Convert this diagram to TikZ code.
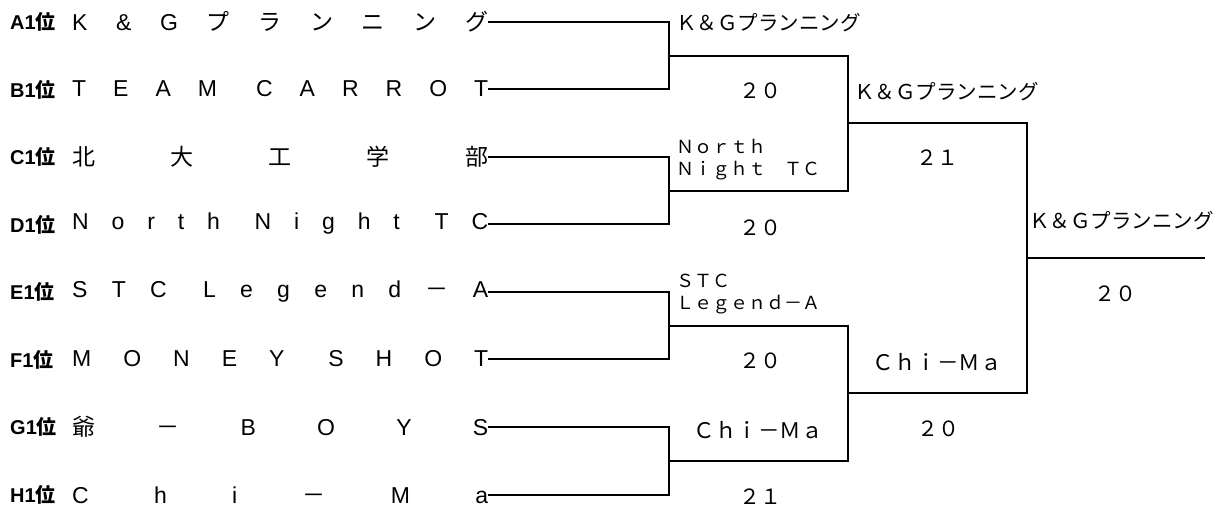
\documentclass[tikz,border=0pt]{standalone}
\usepackage{fontspec}
\setmainfont{Noto Sans CJK JP}
\newfontfamily\latf{Liberation Sans}
\newcommand\gf{\hfill}
\newcommand\sgf{\hspace{12pt}\hfill}
\newcommand\jp[1]{{\rmfamily #1}}
\tikzset{
  x=1pt, y=-1pt,
  rank/.style={anchor=west, inner sep=0pt, font=\fontsize{20}{22}\selectfont\bfseries},
  team/.style={anchor=west, inner sep=0pt, font=\fontsize{23}{25}\selectfont\latf},
  win/.style={inner sep=0pt, font=\fontsize{20.5}{22}\selectfont},
  winsmall/.style={inner sep=0pt, align=left, font=\fontsize{18}{22}\selectfont},
  score/.style={inner sep=0pt, font=\fontsize{21}{23}\selectfont},
  bline/.style={line width=1.8pt, line join=miter}
}
\begin{document}
\begin{tikzpicture}
\useasboundingbox (0,0) rectangle (1228,511);
% rank labels
\node[rank] (rA) at (10,22) {{\latf A1}位};
\node[rank] (rB) at (10,90) {{\latf B1}位};
\node[rank] (rC) at (10,157) {{\latf C1}位};
\node[rank] (rD) at (10,225) {{\latf D1}位};
\node[rank] (rE) at (10,292) {{\latf E1}位};
\node[rank] (rF) at (10,360) {{\latf F1}位};
\node[rank] (rG) at (10,427) {{\latf G1}位};
\node[rank] (rH) at (10,495) {{\latf H1}位};
% team names
\node[team] (tA) at (72,22) {\makebox[416pt][l]{K\gf\&\gf G\gf \jp{プ}\gf \jp{ラ}\gf \jp{ン}\gf \jp{ニ}\gf \jp{ン}\gf \jp{グ}}\hspace{3pt}};
\node[team] (tB) at (72,89) {\makebox[416pt][l]{T\gf E\gf A\gf M\sgf C\gf A\gf R\gf R\gf O\gf T}\hspace{3pt}};
\node[team] (tC) at (72,157) {\makebox[416pt][l]{\jp{北}\gf \jp{大}\gf \jp{工}\gf \jp{学}\gf \jp{部}}\hspace{3pt}};
\node[team] (tD) at (72,224) {\makebox[416pt][l]{N\gf o\gf r\gf t\gf h\sgf N\gf i\gf g\gf h\gf t\sgf T\gf C}\hspace{3pt}};
\node[team] (tE) at (72,292) {\makebox[416pt][l]{S\gf T\gf C\sgf L\gf e\gf g\gf e\gf n\gf d\gf \jp{－}\gf A}\hspace{3pt}};
\node[team] (tF) at (72,359) {\makebox[416pt][l]{M\gf O\gf N\gf E\gf Y\sgf S\gf H\gf O\gf T}\hspace{3pt}};
\node[team] (tG) at (72,427) {\makebox[416pt][l]{\jp{爺}\gf \jp{－}\gf B\gf O\gf Y\gf S}\hspace{3pt}};
\node[team] (tH) at (72,495) {\makebox[416pt][l]{C\gf h\gf i\gf \jp{－}\gf M\gf a}\hspace{3pt}};
% junctions
\coordinate (m1) at (669,56);
\coordinate (m2) at (669,191);
\coordinate (m3) at (669,326);
\coordinate (m4) at (669,461);
\coordinate (s1) at (848,123);
\coordinate (s2) at (848,393);
\coordinate (fj) at (1027,258);
\coordinate (fe) at (1205,258);
% bracket lines
\draw[bline] (tA.east) -| (m1);
\draw[bline] (tB.east) -| (m1);
\draw[bline] (tC.east) -| (m2);
\draw[bline] (tD.east) -| (m2);
\draw[bline] (tE.east) -| (m3);
\draw[bline] (tF.east) -| (m3);
\draw[bline] (tG.east) -| (m4);
\draw[bline] (tH.east) -| (m4);
\draw[bline] (m1) -| (s1);
\draw[bline] (m2) -| (s1);
\draw[bline] (m3) -| (s2);
\draw[bline] (m4) -| (s2);
\draw[bline] (s1) -| (fj);
\draw[bline] (s2) -| (fj);
\draw[bline] (fj) -- (fe);
% winners and scores, round 1
\node[win, anchor=west] (w1) at (676,23) {Ｋ＆Ｇプランニング};
\node[score] (sc1) at (760,91) {２０};
\node[winsmall, anchor=west] (w2) at (676,159.5) {Ｎｏｒｔｈ\\Ｎｉｇｈｔ　ＴＣ};
\node[score] (sc2) at (760,228) {２０};
\node[winsmall, anchor=west] (w3) at (676,294.5) {ＳＴＣ\\Ｌｅｇｅｎｄ－Ａ};
\node[score] (sc3) at (760,361) {２０};
\node[win, font=\fontsize{21.5}{23}\selectfont] (w4) at (758,430) {Ｃｈｉ－Ｍａ};
\node[score] (sc4) at (760,497) {２１};
% round 2
\node[win, anchor=west] (w5) at (854,92) {Ｋ＆Ｇプランニング};
\node[score] (sc5) at (937,158) {２１};
\node[win, font=\fontsize{21.5}{23}\selectfont] (w6) at (937,362) {Ｃｈｉ－Ｍａ};
\node[score] (sc6) at (938,429) {２０};
% final
\node[win, anchor=west] (w7) at (1029,221) {Ｋ＆Ｇプランニング};
\node[score] (sc7) at (1115,294) {２０};
\end{tikzpicture}
\end{document}
